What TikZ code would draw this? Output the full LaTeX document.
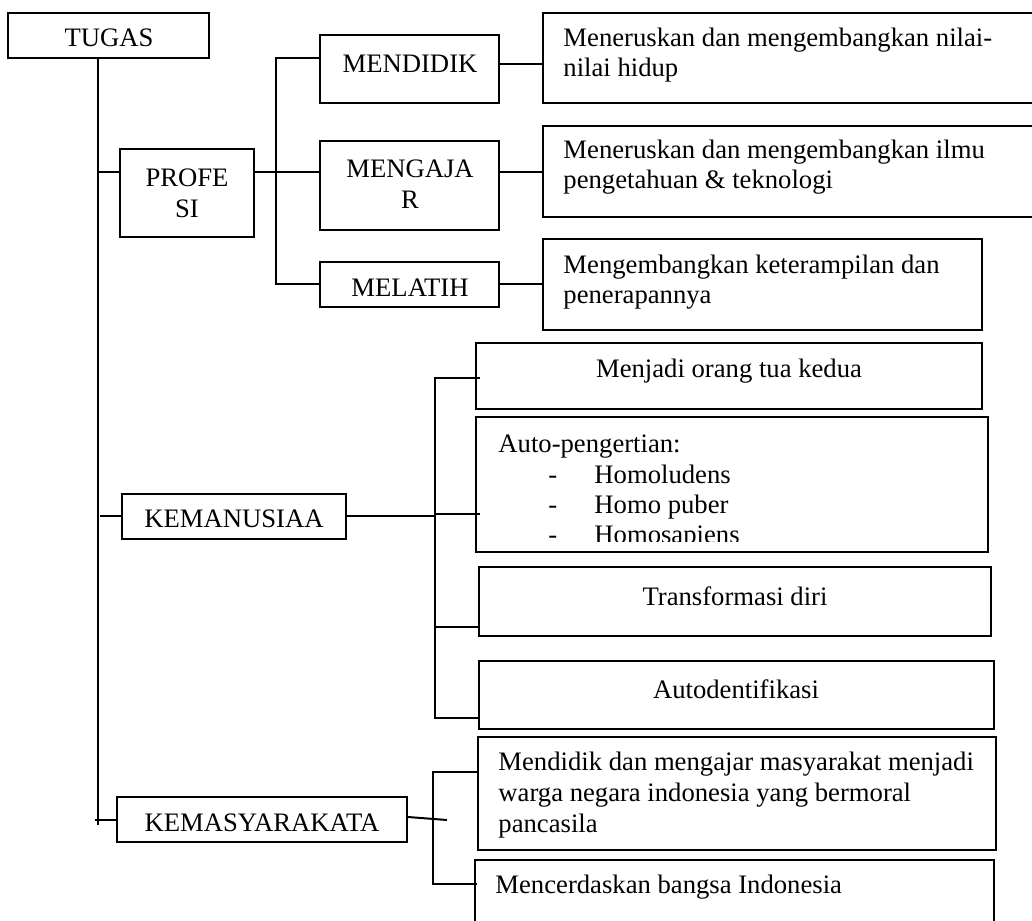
\documentclass[tikz,border=0pt]{standalone}
\usepackage{fontspec}
\setmainfont{Liberation Serif}
\usetikzlibrary{fit,calc}
\begin{document}
\begin{tikzpicture}[x=0.45pt,y=-0.45pt,
  box/.style={draw, line width=0.9pt, inner sep=0pt},
  conn/.style={line width=0.9pt},
  txt/.style={inner sep=0pt, font=\fontsize{12}{13.8}\selectfont, align=center},
  ltxt/.style={inner sep=0pt, font=\fontsize{12}{13.8}\selectfont, align=left, anchor=west},
  btxt/.style={inner sep=0pt, font=\fontsize{12}{13.8}\selectfont, anchor=base west}]
\clip (0,0) rectangle (1032,920);

% ---------- root ----------
\node[box, fit={(8,13) (209,58)}] (tugas) {};
\node[txt] (tugas-t) at (109,38) {TUGAS};
\coordinate (trunk) at (98,825);
\draw[conn] (trunk |- tugas.south) -- (trunk);

% ---------- PROFESI branch ----------
\node[box, fit={(120,149) (254,237)}] (profesi) {};
\node[txt] (profesi-t) at (profesi.center) {PROFE\\SI};
\draw[conn] (trunk |- 0,172) -- (profesi.west |- 0,172);

\node[box, fit={(320,35) (499,103)}] (mendidik) {};
\node[txt] (mendidik-t) at (410,64) {MENDIDIK};
\node[box, fit={(320,141) (499,230)}] (mengajar) {};
\node[txt] (mengajar-t) at (410,184) {MENGAJA\\R};
\node[box, fit={(320,262) (499,307)}] (melatih) {};
\node[txt] (melatih-t) at (410,288) {MELATIH};

\coordinate (pspine) at (276,0);
\draw[conn] (profesi.east |- 0,172) -- (mengajar.west |- 0,172);
\draw[conn] (mendidik.west |- 0,58) -| (pspine |- 0,284) -- (melatih.west |- 0,284);

\node[box, fit={(543,13) (1045,103)}] (r1) {};
\node[ltxt] (r1-t) at (563,55) {Meneruskan dan mengembangkan nilai-\\nilai hidup};
\node[box, fit={(543,126) (1045,217)}] (r2) {};
\node[ltxt] (r2-t) at (563,167) {Meneruskan dan mengembangkan ilmu\\pengetahuan \& teknologi};
\node[box, fit={(543,239) (982,330)}] (r3) {};
\node[ltxt] (r3-t) at (563,282) {Mengembangkan keterampilan dan\\penerapannya};

\draw[conn] (mendidik.east |- 0,64) -- (r1.west |- 0,64);
\draw[conn] (mengajar.east |- 0,172) -- (r2.west |- 0,172);
\draw[conn] (melatih.east |- 0,284) -- (r3.west |- 0,284);

% ---------- KEMANUSIAA branch ----------
\node[box, fit={(122,494) (346,539)}] (kemanusiaan) {};
\node[txt] (kemanusiaan-t) at (234,519) {KEMANUSIAA};
\draw[conn] (100,516) -- (kemanusiaan.west |- 0,516);

\node[box, fit={(476,343) (982,409)}] (k1) {};
\node[txt] (k1-t) at (729,371) {Menjadi orang tua kedua};
\node[box, fit={(476,417) (988,552)}] (k2) {};
\node[btxt] (k2-t) at (498,452) {Auto-pengertian:};
\begin{scope}
  % the list runs past the frame: its last line is cut off
  \clip (k2.north west) rectangle (988,541);
  \node[btxt] (k2-d1) at (548,483) {-};
  \node[btxt] (k2-d2) at (548,513) {-};
  \node[btxt] (k2-d3) at (548,543) {-};
  \node[btxt] (k2-i1) at (594,483) {Homoludens};
  \node[btxt] (k2-i2) at (594,513) {Homo puber};
  \node[btxt] (k2-i3) at (594,543) {Homosapiens};
\end{scope}
\node[box, fit={(479,567) (991,636)}] (k3) {};
\node[txt] (k3-t) at (735,596) {Transformasi diri};
\node[box, fit={(479,661) (994,729)}] (k4) {};
\node[txt] (k4-t) at (736,689) {Autodentifikasi};

\coordinate (kspine) at (435,0);
\draw[conn] (kemanusiaan.east |- 0,516) -- (kspine |- 0,516);
\draw[conn] (480,378) -- (kspine |- 0,378) -- (kspine |- 0,718) -- (k4.west |- 0,718);
\draw[conn] (kspine |- 0,514) -- (480,514);
\draw[conn] (kspine |- 0,627) -- (480,627);

% ---------- KEMASYARAKATA branch ----------
\node[box, fit={(117,797) (407,842)}] (kemasy) {};
\node[txt] (kemasy-t) at (262,823) {KEMASYARAKATA};
\draw[conn] (95,820) -- (kemasy.west |- 0,820);

\node[box, fit={(478,737) (996,850)}] (m1) {};
\node[ltxt] (m1-t) at (498,795) {Mendidik dan mengajar masyarakat menjadi\\warga negara indonesia yang bermoral\\pancasila};
\node[box, fit={(475,860) (994,935)}] (m2) {};
\node[ltxt] (m2-t) at (495,887) {Mencerdaskan bangsa Indonesia};

\coordinate (mspine) at (433,0);
\draw[conn] (kemasy.east |- 0,817) -- (447,820);
\draw[conn] (m1.west |- 0,772) -- (mspine |- 0,772) -- (mspine |- 0,884) -- (477,884);
\end{tikzpicture}
\end{document}
